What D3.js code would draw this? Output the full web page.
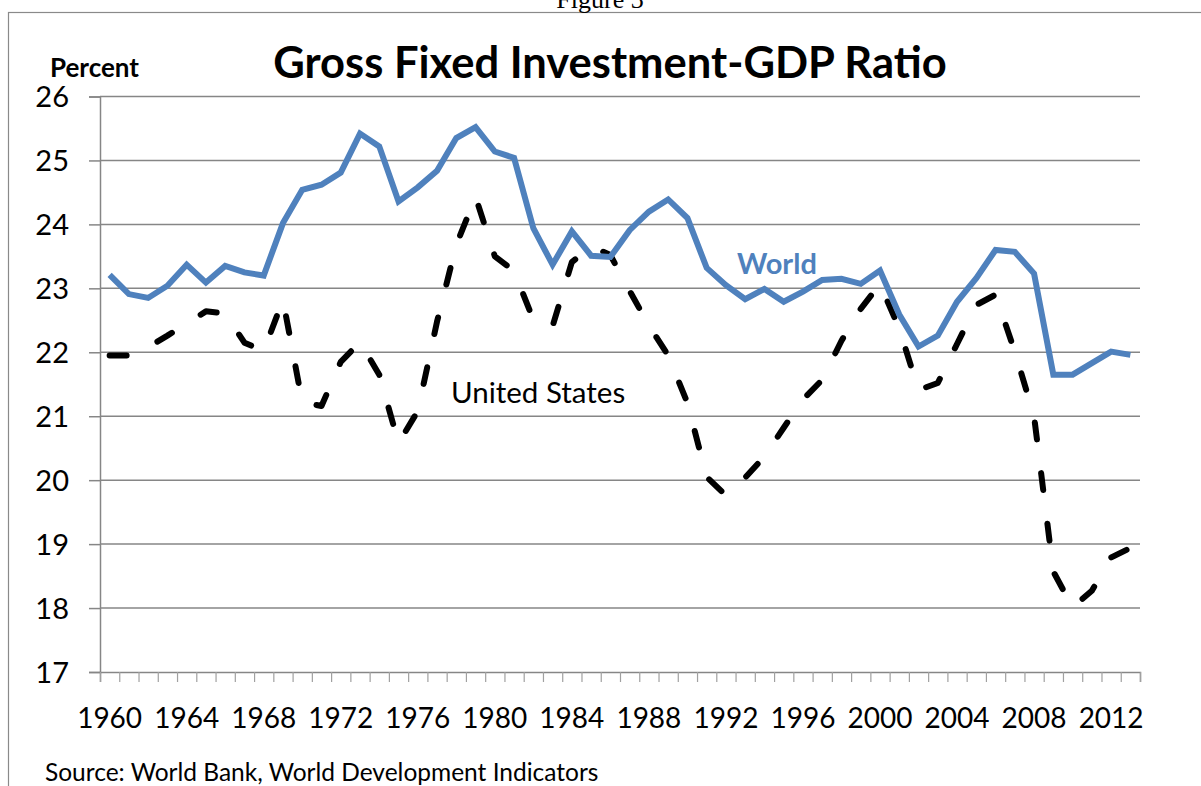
<!DOCTYPE html>
<html>
<head>
<meta charset="utf-8">
<script src="https://cdn.jsdelivr.net/npm/d3@7"></script>
<style>
  body { margin: 0; background: #fff; }
  svg { display: block; }
  text { font-family: Lato, "Open Sans", sans-serif; }
</style>
</head>
<body>
<svg id="chart"></svg>
<script>
var width = 1201;
var height = 786;

var years = [1960, 1961, 1962, 1963, 1964, 1965, 1966, 1967, 1968, 1969,
             1970, 1971, 1972, 1973, 1974, 1975, 1976, 1977, 1978, 1979,
             1980, 1981, 1982, 1983, 1984, 1985, 1986, 1987, 1988, 1989,
             1990, 1991, 1992, 1993, 1994, 1995, 1996, 1997, 1998, 1999,
             2000, 2001, 2002, 2003, 2004, 2005, 2006, 2007, 2008, 2009,
             2010, 2011, 2012, 2013];

var world = [23.21, 22.91, 22.85, 23.04, 23.37, 23.09, 23.35, 23.25, 23.20, 24.02,
             24.54, 24.62, 24.81, 25.42, 25.22, 24.36, 24.58, 24.84, 25.35, 25.52,
             25.14, 25.04, 23.94, 23.37, 23.89, 23.51, 23.49, 23.91, 24.20, 24.39,
             24.10, 23.32, 23.05, 22.83, 22.99, 22.79, 22.95, 23.13, 23.15, 23.07,
             23.28, 22.59, 22.09, 22.26, 22.79, 23.16, 23.60, 23.57, 23.23, 21.65,
             21.65, 21.83, 22.01, 21.96];

var unitedStates = [21.95, 21.95, 22.08, 22.26, 22.45, 22.64, 22.61, 22.15, 22.02, 22.82,
                    21.22, 21.16, 21.85, 22.16, 21.65, 20.58, 21.08, 22.48, 23.68, 24.43,
                    23.50, 23.27, 22.51, 22.41, 23.41, 23.66, 23.52, 22.96, 22.42, 21.95,
                    21.21, 20.05, 19.76, 20.04, 20.37, 20.82, 21.26, 21.57, 22.18, 22.68,
                    23.07, 22.37, 21.41, 21.52, 22.13, 22.74, 22.90, 22.01, 21.00, 18.57,
                    18.01, 18.27, 18.79, 18.94];

var yTicks = [17, 18, 19, 20, 21, 22, 23, 24, 25, 26];
var xTickLabels = [1960, 1964, 1968, 1972, 1976, 1980, 1984, 1988, 1992, 1996, 2000, 2004, 2008, 2012];

var plot = {left: 100, right: 1140, top: 96.5, bottom: 672};

var svg = d3.select('#chart')
            .attr('width', width)
            .attr('height', height);

// outer chart frame (runs off the page on the right and bottom)
svg.append('rect')
   .attr('x', 8.5)
   .attr('y', 12.5)
   .attr('width', 1300)
   .attr('height', 900)
   .attr('fill', 'none')
   .attr('stroke', '#8a8a8a')
   .attr('stroke-width', 1.2);

// caption of the page above, mostly cut off
svg.append('text')
   .attr('x', 600)
   .attr('y', 8)
   .style('font-family', '"Liberation Serif", serif')
   .style('font-size', '26px')
   .style('text-anchor', 'middle')
   .text('Figure 3');

var xScale = d3.scaleBand()
               .domain(years)
               .range([plot.left, plot.right])
               .paddingInner(0)
               .paddingOuter(0);

var yScale = d3.scaleLinear()
               .domain([17, 26])
               .range([plot.bottom, plot.top]);

function cx(d, i){ return xScale(years[i]) + xScale.bandwidth() / 2; }

// y axis
var yAxis = svg.append('g')
               .attr('transform', `translate(${plot.left}, 0)`)
               .call(d3.axisLeft(yScale)
                       .tickValues(yTicks)
                       .tickSize(11)
                       .tickPadding(20)
                       .tickFormat(d3.format('d')));
yAxis.select('.domain').attr('stroke', '#868686').attr('stroke-width', 1.5);
yAxis.selectAll('.tick line').attr('stroke', '#868686').attr('stroke-width', 1.5);
yAxis.selectAll('.tick text')
     .style('font-size', '29px')
     .attr('fill', '#000')
     .attr('dy', '0.36em');

// horizontal gridlines
svg.append('g')
   .selectAll('line')
   .data(yTicks.filter(d => d > 17))
   .enter()
   .append('line')
     .attr('x1', plot.left)
     .attr('x2', plot.right)
     .attr('y1', d => yScale(d))
     .attr('y2', d => yScale(d))
     .attr('stroke', '#868686')
     .attr('stroke-width', 1.5);

// x axis: ticks on category edges, labels every 4 years
var edgeScale = d3.scaleLinear()
                  .domain([0, years.length])
                  .range([plot.left, plot.right]);

var xAxis = svg.append('g')
               .attr('transform', `translate(0, ${plot.bottom})`)
               .call(d3.axisBottom(edgeScale)
                       .tickValues(d3.range(years.length + 1))
                       .tickSize(10)
                       .tickFormat(''));
xAxis.select('.domain').attr('stroke', '#868686').attr('stroke-width', 1.5);
xAxis.selectAll('.tick line').attr('stroke', '#a0a0a0').attr('stroke-width', 1.2);

svg.append('g')
   .selectAll('text')
   .data(xTickLabels)
   .enter()
   .append('text')
     .attr('x', d => xScale(d) + xScale.bandwidth() / 2)
     .attr('y', 728)
     .style('font-size', '28px')
     .style('text-anchor', 'middle')
     .text(d => d);

var line = d3.line()
             .x(cx)
             .y(d => yScale(d));

// United States, dashed black
svg.append('path')
   .datum(unitedStates)
   .attr('fill', 'none')
   .attr('stroke', '#000')
   .attr('stroke-width', 6)
   .attr('stroke-linecap', 'round')
   .attr('stroke-linejoin', 'round')
   .attr('stroke-dasharray', '17,34')
   .attr('d', line);

// World, solid blue
svg.append('path')
   .datum(world)
   .attr('fill', 'none')
   .attr('stroke', '#4f81bd')
   .attr('stroke-width', 6)
   .attr('stroke-linejoin', 'miter')
   .attr('d', line);

// title and labels
svg.append('text')
   .attr('x', 610)
   .attr('y', 78)
   .style('font-size', '43.5px')
   .style('font-weight', 'bold')
   .style('text-anchor', 'middle')
   .text('Gross Fixed Investment-GDP Ratio');

svg.append('text')
   .attr('x', 50)
   .attr('y', 77)
   .style('font-size', '26px')
   .style('font-weight', 'bold')
   .text('Percent');

svg.append('text')
   .attr('x', 737)
   .attr('y', 274)
   .style('font-size', '29px')
   .style('font-weight', 'bold')
   .attr('fill', '#4f81bd')
   .text('World');

svg.append('text')
   .attr('x', 451)
   .attr('y', 403)
   .style('font-size', '29.5px')
   .text('United States');

svg.append('text')
   .attr('x', 45)
   .attr('y', 781)
   .style('font-size', '24.5px')
   .text('Source: World Bank, World Development Indicators');
</script>
</body>
</html>
